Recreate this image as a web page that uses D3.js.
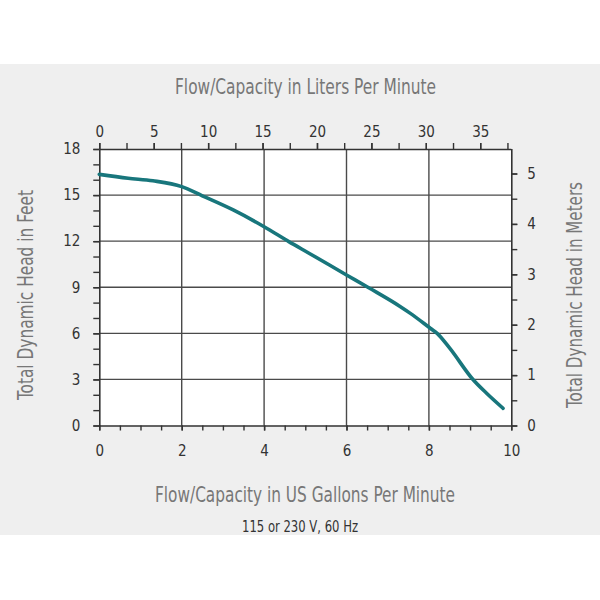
<!DOCTYPE html>
<html><head><meta charset="utf-8">
<script src="https://cdn.jsdelivr.net/npm/d3@7"></script>
<style>
body{margin:0;background:#fff;}
svg{display:block;}
text{font-family:"DejaVu Sans Condensed","DejaVu Sans",sans-serif;font-stretch:condensed;}
</style></head>
<body><svg id="c" width="600" height="600"></svg>
<script>
// Pump curve data (US gallons per minute vs total dynamic head in feet)
const flowGpm = [0, 0.7, 1.3, 2.0, 2.5, 3.25, 4.0, 4.6, 5.1, 6.0, 6.55, 7.3, 7.55, 8.05, 8.2, 8.5, 9.08, 9.4, 9.8];
const headFt  = [16.35, 16.1, 15.93, 15.55, 14.95, 14.03, 12.94, 11.97, 11.2, 9.8, 8.95, 7.75, 7.3, 6.3, 6.0, 5.05, 2.96, 2.1, 1.12];
const gpmTicks = [0, 2, 4, 6, 8, 10];
const literTicks = [0, 5, 10, 15, 20, 25, 30, 35];
const feetTicks = [0, 3, 6, 9, 12, 15, 18];
const meterTicks = [0, 1, 2, 3, 4, 5];
const topTitle = "Flow/Capacity in Liters Per Minute";
const bottomTitle = "Flow/Capacity in US Gallons Per Minute";
const leftTitle = "Total Dynamic Head in Feet";
const rightTitle = "Total Dynamic Head in Meters";
const subtitle = "115 or 230 V, 60 Hz";

const GAL_TO_L = 3.78541, M_TO_FT = 3.28084;
const svg = d3.select("#c");
const L = 99.3, R = 511.3, T = 149, B = 425.5;

const x = d3.scaleLinear().domain([0, 10]).range([L, R]);
const xL = d3.scaleLinear().domain([0, 10 * GAL_TO_L]).range([L, R]);
const y = d3.scaleLinear().domain([0, 18]).range([B, T]);
const yM = d3.scaleLinear().domain([0, 18 / M_TO_FT]).range([B, T]);

// gray band
svg.append("rect").attr("x", 0).attr("y", 64).attr("width", 600).attr("height", 471).attr("fill", "#efefef");
svg.append("rect").attr("x", L).attr("y", T).attr("width", R - L).attr("height", B - T).attr("fill", "#fff");

// grid
const g = svg.append("g");
g.selectAll(".vg").data(gpmTicks.filter(d => d > 0 && d < 10)).join("line")
  .attr("x1", d => x(d)).attr("x2", d => x(d)).attr("y1", T).attr("y2", B)
  .attr("stroke", "#4a4a4a").attr("stroke-width", 1.4);
g.selectAll(".hg").data(feetTicks.filter(d => d > 0 && d < 18)).join("line")
  .attr("x1", L).attr("x2", R).attr("y1", d => y(d)).attr("y2", d => y(d))
  .attr("stroke", "#4a4a4a").attr("stroke-width", 1.4);

function styleAxis(sel) {
  sel.select(".domain").attr("stroke", "#333").attr("stroke-width", 1.6);
  sel.selectAll(".tick line").attr("stroke", "#333").attr("stroke-width", 1.4);
  sel.selectAll(".tick text").attr("fill", "#333").attr("font-size", 15)
    .style("font-family", '"DejaVu Sans Condensed","DejaVu Sans",sans-serif').style("font-stretch", "condensed");
}
function minorTicks(axisGen, values) { return axisGen.tickValues(values).tickFormat("").tickSizeOuter(0); }
const fmt = d3.format("d");

// bottom axis (gpm)
const bMinor = d3.range(0, 10.01, 0.5);
svg.append("g").attr("transform", `translate(0,${B})`).call(minorTicks(d3.axisBottom(x).tickSize(5), bMinor)).call(styleAxis);
svg.append("g").attr("transform", `translate(0,${B})`)
  .call(d3.axisBottom(x).tickValues(gpmTicks).tickFormat(fmt).tickSize(5).tickPadding(15).tickSizeOuter(0)).call(styleAxis)
  .select(".domain").remove();

// top axis (liters)
const tMinor = d3.range(0, 37.6, 2.5);
svg.append("g").attr("transform", `translate(0,${T})`).call(minorTicks(d3.axisTop(xL).tickSize(6), tMinor)).call(styleAxis)
  .select(".domain").attr("d", `M${L},0.5H${R}`);
svg.append("g").attr("transform", `translate(0,${T})`)
  .call(d3.axisTop(xL).tickValues(literTicks).tickFormat(fmt).tickSize(6).tickPadding(6).tickSizeOuter(0)).call(styleAxis)
  .select(".domain").remove();

// left axis (feet)
const lMinor = d3.range(0, 18.01, 1);
svg.append("g").attr("transform", `translate(${L},0)`).call(minorTicks(d3.axisLeft(y).tickSize(6), lMinor)).call(styleAxis);
svg.append("g").attr("transform", `translate(${L},0)`)
  .call(d3.axisLeft(y).tickValues(feetTicks).tickFormat(fmt).tickSize(6).tickPadding(13).tickSizeOuter(0)).call(styleAxis)
  .select(".domain").remove();

// right axis (meters)
const rMinor = d3.range(0, 5.01, 0.5);
svg.append("g").attr("transform", `translate(${R},0)`).call(minorTicks(d3.axisRight(yM).tickSize(6), rMinor)).call(styleAxis)
  .select(".domain").attr("d", `M0.5,${B}V${T}`);
svg.append("g").attr("transform", `translate(${R},0)`)
  .call(d3.axisRight(yM).tickValues(meterTicks).tickFormat(fmt).tickSize(6).tickPadding(10).tickSizeOuter(0)).call(styleAxis)
  .select(".domain").remove();

// curve
const pts = flowGpm.map((f, i) => [f, headFt[i]]);
svg.append("path").datum(pts)
  .attr("d", d3.line().x(d => x(d[0])).y(d => y(d[1])).curve(d3.curveMonotoneX))
  .attr("fill", "none").attr("stroke", "#18767c").attr("stroke-width", 3.6).attr("stroke-linecap", "round");

// titles
function title(tx, ty, rot, size, color, str, len) {
  svg.append("text").attr("transform", `translate(${tx},${ty}) rotate(${rot})`).attr("text-anchor", "middle")
    .attr("font-size", size).attr("fill", color)
    .attr("textLength", len).attr("lengthAdjust", "spacingAndGlyphs").text(str);
}
title(305.5, 94, 0, 21, "#777", topTitle, 261);
title(305, 502, 0, 21, "#777", bottomTitle, 300);
title(300, 532, 0, 16, "#333", subtitle, 116);
title(33, 295, -90, 21, "#777", leftTitle, 210);
title(582, 295, -90, 21, "#777", rightTitle, 226);
</script></body></html>
